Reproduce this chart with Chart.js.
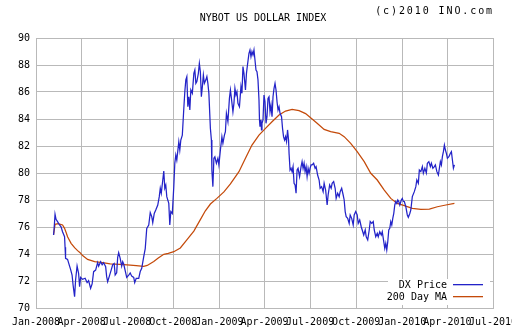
<!DOCTYPE html>
<html><head><meta charset="utf-8">
<script src="https://cdn.jsdelivr.net/npm/chart.js@4"></script>
<style>html,body{margin:0;padding:0;background:#fff}#wrap{width:512px;height:335px}</style>
</head><body><div id="wrap"><canvas id="c" width="512" height="335"></canvas></div>
<script>
// x values: days since 2008-01-01
const titleText = 'NYBOT US DOLLAR INDEX';
const creditText = '(c)2010 INO.com';
const tickDays = [0, 91, 182, 274, 366, 456, 547, 639, 731, 821, 912];
const tickLabels = ['Jan-2008','Apr-2008','Jul-2008','Oct-2008','Jan-2009','Apr-2009','Jul-2009','Oct-2009','Jan-2010','Apr-2010','Jul-2010'];
const seriesNames = ['DX Price', '200 Day MA'];
const priceDay = [35,36,38,40,43,47,50,53,57,58,59,63,67,69,72,74,77,79,82,85,87,89,93,98,102,105,109,112,115,119,123,125,129,132,135,139,141,143,147,150,153,156,158,161,163,165,168,171,173,175,179,181,185,188,191,195,197,200,205,208,211,215,218,221,225,228,231,233,236,239,243,246,248,250,253,255,257,259,261,265,267,269,272,275,277,279,281,285,287,289,292,295,297,299,301,303,305,307,309,312,315,317,319,321,324,326,328,330,332,334,336,339,341,343,345,348,350,351,353,355,357,360,363,365,368,371,373,376,378,380,383,386,388,390,393,395,397,399,401,403,406,409,411,413,415,418,420,422,425,427,429,431,433,435,437,439,441,443,445,446,447,449,450,451,453,455,457,459,461,463,465,467,469,471,473,475,477,479,481,483,485,487,490,492,494,496,498,500,502,504,505,507,509,511,513,515,517,519,521,523,526,529,531,533,535,537,539,541,543,545,547,549,551,554,557,559,562,565,567,570,573,575,578,581,583,586,589,591,594,597,599,602,605,607,610,613,615,617,619,622,625,627,630,633,635,638,641,643,646,649,651,654,657,659,662,665,667,670,673,675,678,681,683,686,689,691,694,696,698,700,702,704,706,708,710,712,714,716,718,720,722,724,726,729,731,733,735,738,741,743,746,748,751,755,758,760,763,765,768,771,773,776,779,781,784,787,789,792,795,797,800,803,805,807,809,811,813,815,817,819,821,824,827,829,831,833,835];
const priceValue = [75.41,75.78,76.94,76.57,76.4,76.15,76.02,75.65,75.28,74.5,73.68,73.6,73.1,72.86,72.44,71.7,70.84,72.07,73.11,72.57,71.58,72.27,72.12,72.2,71.88,72.03,71.46,71.78,72.69,72.81,73.36,73.1,73.43,73.2,73.36,73.06,72.32,71.95,72.44,72.81,73.2,73.3,72.44,72.6,73.75,74.1,73.68,73.1,73.43,73.26,72.6,72.27,72.44,72.6,72.36,72.27,71.88,72.2,72.2,72.7,72.94,73.8,74.4,75.9,76.15,77.06,76.77,76.32,77.0,77.26,77.63,78.25,78.87,78.5,79.48,80.15,78.87,79.1,78.25,77.75,76.15,77.14,77.0,78.99,80.72,81.33,80.96,82.32,81.7,82.44,82.8,84.79,86.02,86.9,87.14,84.91,85.65,84.67,86.15,85.9,87.38,87.63,86.64,86.77,87.38,88.12,87.5,85.65,86.4,87.26,86.64,86.9,87.14,86.64,85.9,83.31,82.44,80.2,78.99,81.09,81.2,80.72,81.09,80.6,81.7,82.69,82.2,82.81,83.06,84.42,83.8,85.53,86.15,85.53,84.54,85.16,86.27,85.78,86.02,85.16,84.91,86.4,85.9,87.88,87.38,86.15,87.38,88.0,88.86,89.11,88.62,88.99,88.74,89.11,88.37,87.63,87.5,86.9,85.41,83.93,83.43,83.93,83.19,83.68,83.93,85.78,85.28,83.68,84.17,85.53,85.65,84.54,85.04,84.17,85.65,86.27,86.64,86.15,85.28,84.67,84.91,84.42,84.17,83.31,82.69,82.44,82.69,82.32,83.19,82.44,81.46,80.22,80.35,80.1,80.47,79.24,79.11,78.5,80.22,80.35,79.73,80.47,80.84,80.35,80.72,80.1,80.47,79.73,80.35,79.98,80.35,80.6,80.6,80.72,80.35,80.47,79.85,79.48,78.87,78.99,78.62,79.24,78.74,77.63,78.37,79.11,78.87,79.24,79.36,78.87,78.13,78.5,78.25,78.62,78.87,78.37,78.0,77.14,76.77,76.64,76.27,76.89,76.64,76.15,76.89,77.14,76.89,76.27,76.52,76.02,75.78,75.41,75.78,75.28,75.04,75.78,76.4,76.27,76.4,75.78,75.28,75.53,75.28,75.65,75.41,75.65,74.91,74.42,74.79,74.3,74.91,75.78,75.9,76.4,76.15,76.64,77.01,77.63,77.88,77.75,78.0,77.88,77.63,78.0,78.12,77.9,77.88,77.5,76.89,76.72,77.0,77.26,78.25,78.62,78.99,79.48,79.24,80.22,80.1,80.47,79.98,80.35,80.0,80.72,80.84,80.47,80.72,80.35,80.47,80.6,80.1,79.85,80.35,80.84,80.6,81.21,81.58,82.07,81.7,81.46,81.09,81.21,81.46,81.58,80.96,80.35,80.6];
const maDay = [35,38,44,53,57,61,63,70,77,83,88,93,103,117,133,148,167,182,200,215,222,235,244,255,264,275,288,301,315,328,338,348,361,375,388,405,418,431,445,458,471,485,498,511,525,538,551,561,575,588,605,615,628,641,655,668,681,695,708,721,735,751,768,785,801,818,835];
const maValue = [75.41,76.2,76.25,76.15,75.9,75.5,75.28,74.79,74.47,74.25,74.1,73.88,73.6,73.43,73.36,73.26,73.23,73.19,73.14,73.08,73.15,73.45,73.7,73.98,74.05,74.17,74.45,75.04,75.7,76.55,77.2,77.7,78.12,78.6,79.19,80.1,81.09,82.07,82.81,83.31,83.8,84.3,84.59,84.72,84.62,84.4,84.0,83.68,83.23,83.06,82.94,82.69,82.2,81.58,80.84,79.98,79.48,78.74,78.12,77.75,77.58,77.38,77.31,77.33,77.5,77.63,77.75];

const FONT = 'DejaVu Sans Mono';
const priceColor = '#2323c8';
const maColor = '#c44a0a';
const gridColor = '#b9b9b9';

const toPts = (xs, ys) => xs.map((x, i) => ({x: x, y: ys[i]}));

const decor = {
  id: 'decor',
  afterDraw(chart) {
    const ctx = chart.ctx;
    const a = chart.chartArea;
    ctx.save();
    ctx.fillStyle = '#000';
    ctx.textBaseline = 'middle';
    ctx.font = '10px "' + FONT + '"';
    ctx.textAlign = 'center';
    ctx.fillText(titleText, 263, 18);
    ctx.textAlign = 'right';
    try { ctx.letterSpacing = '1.9px'; } catch (e) {}
    ctx.fillText(creditText, 494, 11);
    try { ctx.letterSpacing = '0px'; } catch (e) {}
    // legend
    const lx = a.right - 105, ly = a.bottom - 29;
    ctx.fillStyle = '#fff';
    ctx.fillRect(lx, ly, 102, 26);
    const rows = [[seriesNames[0], priceColor], [seriesNames[1], maColor]];
    rows.forEach((r, i) => {
      const y = ly + 6 + i * 12;
      ctx.fillStyle = '#000';
      ctx.textAlign = 'right';
      ctx.fillText(r[0], a.right - 46, y);
      ctx.fillStyle = r[1];
      ctx.fillRect(a.right - 40, Math.round(y) - 1, 30, 1.3);
    });
    ctx.restore();
  }
};

new Chart(document.getElementById('c'), {
  type: 'line',
  data: {
    datasets: [
      {label: seriesNames[0], data: toPts(priceDay, priceValue), borderColor: priceColor, borderWidth: 1.25, pointRadius: 0, tension: 0, fill: false},
      {label: seriesNames[1], data: toPts(maDay, maValue), borderColor: maColor, borderWidth: 1.25, pointRadius: 0, tension: 0, fill: false}
    ]
  },
  options: {
    responsive: false,
    animation: false,
    layout: {padding: {top: 38, right: 19, left: 0, bottom: 0}},
    plugins: {legend: {display: false}, tooltip: {enabled: false}, title: {display: false}},
    scales: {
      x: {
        type: 'linear', min: 0, max: 912,
        afterBuildTicks: s => { s.ticks = tickDays.map(v => ({value: v})); },
        afterFit: s => { s.height = 27; s.paddingLeft = 0; s.paddingRight = 0; },
        ticks: {autoSkip: false, maxRotation: 0, minRotation: 0, padding: 8, color: '#000',
          font: {family: FONT, size: 10},
          callback: (v) => { const i = tickDays.indexOf(v); return i >= 0 ? tickLabels[i] : ''; }},
        grid: {color: gridColor, drawTicks: false},
        border: {color: gridColor}
      },
      y: {
        min: 70, max: 90,
        afterFit: s => { s.width = 36; s.paddingTop = 0; s.paddingBottom = 0; },
        ticks: {stepSize: 2, padding: 6, color: '#000', font: {family: FONT, size: 10}},
        grid: {color: gridColor, drawTicks: false},
        border: {color: gridColor}
      }
    }
  },
  plugins: [decor]
});
</script></body></html>
